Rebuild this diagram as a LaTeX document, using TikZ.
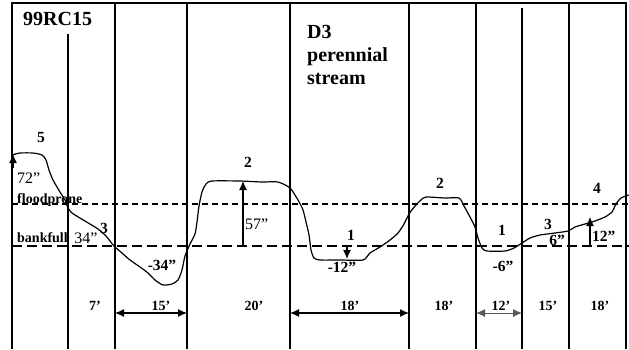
\documentclass[tikz,border=0pt]{standalone}
\usepackage{fontspec}
\setmainfont{Liberation Serif}
\usetikzlibrary{arrows.meta}
\tikzset{
  grid/.style={line width=1.4pt},
  flood/.style={line width=1.1pt, dash pattern=on 6pt off 4pt},
  bank/.style={line width=1.2pt, dash pattern=on 10pt off 5pt},
  profile/.style={line width=1.2pt, line join=round},
  lbl/.style={font=\fontsize{15.5}{15.5}\selectfont\bfseries, inner sep=0pt, anchor=base},
  lblr/.style={font=\fontsize{16}{16}\selectfont, inner sep=0pt, anchor=base},
  small/.style={font=\fontsize{14}{14}\selectfont\bfseries, inner sep=0pt, anchor=base west},
  wlbl/.style={font=\fontsize{14}{14}\selectfont\bfseries, inner sep=0pt, anchor=base},
  title/.style={font=\fontsize{20}{20}\selectfont\bfseries, inner sep=0pt, anchor=base west},
  dim/.style={line width=1.1pt, {Latex[length=9pt,width=8pt]}-{Latex[length=9pt,width=8pt]}},
  up/.style={line width=1.1pt, -{Latex[length=9pt,width=8pt]}},
}
\begin{document}
\begin{tikzpicture}[x=1pt,y=-1pt]
\useasboundingbox (0,0) rectangle (629,349);
% frame and grid
\draw[grid] (12,349) -- (12,3) -- (626,3) -- (626,349);
\foreach \xx in {115,187,290,409,476,569} \draw[grid] (\xx,3) -- (\xx,349);
\draw[grid] (68,34) -- (68,349);
\draw[grid] (522,8) -- (522,349);
% reference lines
\draw[flood] (12,204) -- (629,204);
\draw[bank] (12,246) -- (629,246);
% profile
\draw[profile] plot[smooth, tension=0.4] coordinates {
(12,155) (20,153) (33,153) (42,155) (46,160) (49,170) (53,180) (60,192) (65,200) (68,208) (72,213) (80,218) (90,224) (98,229) (106,236) (114,246) (122,253) (130,260) (140,267) (148,273) (155,280) (163,285) (172,284) (178,280) (182,270) (185,256) (190,244) (195,234) (197,222) (199,206) (202,192) (206,184) (212,181) (240,181) (262,182) (278,182) (290,188) (298,200) (303,210) (306,222) (309,235) (311,250) (314,258) (320,260) (340,260) (363,260) (370,253) (380,247) (390,240) (398,233) (404,224) (409,214) (415,206) (421,200) (426,197) (445,198) (459,198) (464,206) (470,217) (475,227) (478,238) (482,248) (487,251) (505,251) (514,248) (522,243) (530,238) (540,235) (555,233) (568,231) (575,227) (585,224) (595,221) (605,217) (612,212) (616,204) (621,198) (629,195)};
% height markers
\coordinate (a72s) at (13,168); \coordinate (a72e) at (13,154);
\draw[up] (a72s) -- (a72e);
\coordinate (a57s) at (243,246); \coordinate (a57e) at (243,181);
\draw[up] (a57s) -- (a57e);
\coordinate (a12s) at (590,246); \coordinate (a12e) at (590,217);
\draw[up] (a12s) -- (a12e);
\coordinate (m12s) at (347,247); \coordinate (m12e) at (347,259);
\draw[up] (m12s) -- (m12e);
% width markers
\coordinate (w1a) at (115,313); \coordinate (w1b) at (187,313);
\draw[dim] (w1a) -- (w1b);
\coordinate (w2a) at (290,313); \coordinate (w2b) at (409,313);
\draw[dim] (w2a) -- (w2b);
\coordinate (w3a) at (476,313); \coordinate (w3b) at (522,313);
\draw[dim, draw=black!65, fill=black!65, line width=0.9pt] (w3a) -- (w3b);
% titles
\node[title] (t1) at (23,25) {99RC15};
\node[title] (t2) at (307,38) {D3};
\node[title] (t3) at (307,61) {perennial};
\node[title] (t4) at (307,84) {stream};
% labels
\node[lbl] (n5) at (41,142) {5};
\node[lblr, anchor=base west] (h72) at (17,183) {72”};
\node[small] (fp) at (17,203) {floodprone};
\node[small] (bf) at (17,242) {bankfull};
\node[lbl] (n3a) at (104,233) {3};
\node[lblr] (h34) at (86,243) {34”};
\node[lbl] (n2a) at (248,167) {2};
\node[lblr, anchor=base west] (h57) at (245,229) {57”};
\node[lbl] (hm34) at (162,270) {-34”};
\node[lbl] (n1a) at (351,240) {1};
\node[lbl] (hm12) at (342,272) {-12”};
\node[lbl] (n2b) at (440,188) {2};
\node[lbl] (n1b) at (502,235) {1};
\node[lbl] (hm6) at (503,271) {-6”};
\node[lbl] (n3b) at (548,229) {3};
\node[lbl] (h6) at (557,245) {6”};
\node[lbl, anchor=base west] (h12) at (592,241) {12”};
\node[lbl] (n4) at (597,193) {4};
% widths
\node[wlbl] (d1) at (95,310) {7’};
\node[wlbl] (d2) at (161,310) {15’};
\node[wlbl] (d3) at (254,310) {20’};
\node[wlbl] (d4) at (350,310) {18’};
\node[wlbl] (d5) at (444,310) {18’};
\node[wlbl] (d6) at (501,310) {12’};
\node[wlbl] (d7) at (548,310) {15’};
\node[wlbl] (d8) at (600,310) {18’};
\end{tikzpicture}
\end{document}
